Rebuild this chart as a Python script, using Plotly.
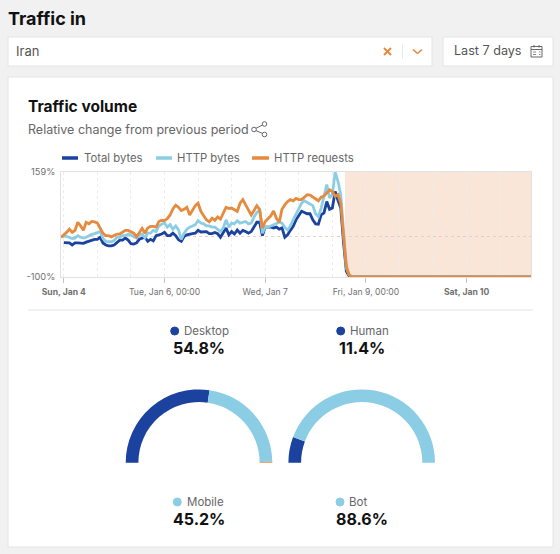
import pandas as pd
import plotly.graph_objects as go

W, H = 560, 554
NAVY, SKY, ORANGE = "#1B429F", "#8CCDE6", "#E68A3E"
FONT = "Inter"

TICK_TIMES = ["2026-01-04 12:00", "2026-01-06 00:00", "2026-01-07 12:00", "2026-01-09 00:00", "2026-01-10 12:00"]
TICK_LABELS = ["<b>Sun, Jan 4</b>", "Tue, Jan 6, 00:00", "Wed, Jan 7", "Fri, Jan 9, 00:00", "<b>Sat, Jan 10</b>"]
Y_TICKS = [-100, 0, 159]
Y_LABELS = ["-100%", "", "159%"]

FLAT_TAIL = [-100, -100, -100, -100, -100, -100, -100, -100, -100, -100, -100, -100, -100, -100, -100, -100,
             -100, -100, -100, -100, -100, -100, -100, -100, -100, -100, -100, -100, -100, -100, -100, -100,
             -100, -100, -100, -100, -100, -100, -100, -100, -100, -100, -100, -100, -100, -100, -100, -100,
             -100, -100, -100, -100, -100, -100, -100, -100, -100, -100, -100, -100, -100, -100, -100, -100]

http_requests = [-2, 3, 10, 18, 10, 15, 35, 26, 15, 35, 31, 37, 36, 33, 21, 8, 2, 2, -1, 2, 6, 6, 10, 15, 15, 12,
                 8, -1, 8, 20, 8, 21, 25, 25, 23, 37, 40, 39, 44, 53, 68, 77, 72, 64, 67, 72, 53, 66, 76, 82, 62,
                 51, 41, 36, 45, 40, 48, 43, 56, 72, 69, 70, 66, 62, 82, 91, 78, 66, 53, 64, 76, 67, 21, 37, 43,
                 51, 63, 45, 35, 67, 78, 86, 91, 88, 94, 91, 91, 97, 103, 102, 97, 93, 88, 97, 100, 107, 115, 111,
                 99, 103, 82, 0, -74, -95, -100] + FLAT_TAIL
http_bytes = [-2, 1, 0, -2, -5, -4, 2, -2, -4, -2, 2, 5, 7, 9, 12, -5, -12, -13, -13, -10, -2, -2, 2, 2, 6, 3,
              -1, -4, 4, 6, -3, 8, 8, 15, 12, 26, 30, 33, 23, 29, 18, 26, 16, -7, 8, 18, 23, 26, 29, 39, 33,
              31, 26, 26, 23, 23, 18, 12, 21, 41, 23, 33, 31, 39, 33, 35, 37, 31, 33, 48, 59, 66, 8, 23, 23,
              26, 29, 33, 35, 33, 22, 16, 26, 41, 56, 70, 82, 88, 84, 78, 76, 56, 49, 70, 99, 128, 95, 103,
              159, 136, 103, 8, -78, -95, -100] + FLAT_TAIL
total_bytes = [None, -15, -15, -16, -21, -16, -16, -17, -17, -14, -12, -9, -7, -7, -2, -16, -21, -23, -23, -21, -16,
               -9, -9, -4, -9, -18, -19, -16, -7, -4, -2, -12, -7, -11, 2, 4, 6, 10, 2, 2, 8, 2, -8, -12, 0, 4,
               6, 7, 8, 15, 11, 11, 12, 7, 7, 10, 7, -2, 10, 21, 4, 12, 6, 16, 8, 15, 12, 8, 12, 25, 35, 35, 2,
               23, 23, 23, 21, 23, 18, 21, -2, 4, 15, 25, 41, 53, 62, 59, 56, 56, 41, 31, 30, 53, 58, 86, 67, 70,
               111, 89, 70, -16, -86, -97, -100] + FLAT_TAIL

device_labels = ["Desktop", "Mobile", "Other"]
device_values = [54.8, 45.2, 0.4]
bot_labels = ["Human", "Bot"]
bot_values = [11.4, 88.6]

times = pd.date_range("2026-01-04 11:00", periods=len(http_requests), freq="h")


def px(x):
    return x / W


def py(y):
    return 1 - y / H


shapes, notes = [], []


def box(x0, y0, x1, y1, fill="#FFFFFF", line="#E4E4E4", lw=1):
    shapes.append(dict(type="rect", xref="paper", yref="paper", x0=px(x0), x1=px(x1), y0=py(y0), y1=py(y1),
                       fillcolor=fill, line=dict(color=line, width=lw), layer="below"))


def seg(x0, y0, x1, y1, color, lw=1.0, dash="solid"):
    shapes.append(dict(type="line", xref="paper", yref="paper", x0=px(x0), x1=px(x1), y0=py(y0), y1=py(y1),
                       line=dict(color=color, width=lw, dash=dash), layer="above"))


def dot(cx, cy, r, fill, line=None, lw=1.0):
    shapes.append(dict(type="circle", xref="paper", yref="paper", x0=px(cx - r), x1=px(cx + r),
                       y0=py(cy + r), y1=py(cy - r), fillcolor=fill,
                       line=dict(color=line or fill, width=lw), layer="above"))


def text(x, y, s, size, color="#555555", anchor="left", bold=False):
    notes.append(dict(xref="paper", yref="paper", x=px(x), y=py(y), text=f"<b>{s}</b>" if bold else s,
                      showarrow=False, xanchor=anchor, yanchor="middle", borderpad=0, borderwidth=0,
                      font=dict(family=FONT, size=size, color=color)))


# page furniture
box(8, 37, 432, 66)
box(443, 37, 553, 66)
box(8, 77, 553, 547)
seg(28, 310, 533, 310, "#E4E4E4", 1)
text(8, 18, "Traffic in", 18, "#111111", bold=True)
text(16, 51, "Iran", 13, "#555555")
text(453.5, 51, "Last 7 days", 12.6, "#555555")
text(28, 107, "Traffic volume", 15.5, "#111111", bold=True)
text(28, 129, "Relative change from previous period", 12.5, "#666666")

# clear / divider / chevron
seg(384, 48, 391, 55, ORANGE, 2)
seg(391, 48, 384, 55, ORANGE, 2)
seg(402.5, 44, 402.5, 59, "#EAEAEA", 1)
seg(413, 49.5, 417.5, 53.5, ORANGE, 1.6)
seg(417.5, 53.5, 422, 49.5, ORANGE, 1.6)

# calendar icon
shapes.append(dict(type="rect", xref="paper", yref="paper", x0=px(531), x1=px(542), y0=py(57), y1=py(46.5),
                   line=dict(color="#666666", width=1), layer="above"))
seg(531, 49.5, 542, 49.5, "#666666", 1)
seg(534, 45, 534, 47.5, "#666666", 1)
seg(539, 45, 539, 47.5, "#666666", 1)
seg(533, 52, 540.5, 52, "#888888", 1, "dot")
seg(533, 54.5, 540.5, 54.5, "#888888", 1, "dot")

# share icon
dot(264.5, 124, 2.3, "#FFFFFF", "#666666")
dot(254, 129.5, 2.3, "#FFFFFF", "#666666")
dot(264.5, 134.5, 2.3, "#FFFFFF", "#666666")
seg(256, 128.3, 262.4, 125.1, "#666666")
seg(256, 130.6, 262.4, 133.4, "#666666")

# chart legend
for x0, x1, tx, color, label in [(62, 78, 84, NAVY, "Total bytes"), (156, 172, 177, SKY, "HTTP bytes"),
                                 (252, 269, 274, ORANGE, "HTTP requests")]:
    shapes.append(dict(type="line", xref="paper", yref="paper", x0=px(x0), x1=px(x1), y0=py(158), y1=py(158),
                       line=dict(color=color, width=3.5), layer="above"))
    text(tx, 158, label, 11.3, "#666666")

# shaded no-comparison window
shapes.append(dict(type="rect", xref="x", yref="paper", x0="2026-01-08 16:30", x1=times[-1],
                   y0=py(277), y1=py(172), fillcolor="#FAE6D9", line=dict(width=0), layer="below"))

# gauge labels: dot x, text x, value centre, y
for dx, tx, vx, name, val, col, ty in [(174.7, 184, 199, "Desktop", "54.8%", NAVY, 331),
                                       (340.7, 350, 362, "Human", "11.4%", NAVY, 331),
                                       (177.3, 187.3, 199, "Mobile", "45.2%", SKY, 502),
                                       (340, 349.3, 361.5, "Bot", "88.6%", SKY, 502)]:
    dot(dx, ty, 4, col)
    text(tx, ty, name, 11.5, "#666666")
    text(vx, ty + 17.3, val, 16, "#111111", anchor="center", bold=True)

fig = go.Figure()
for name, ys, color in [("Total bytes", total_bytes, NAVY), ("HTTP bytes", http_bytes, SKY),
                        ("HTTP requests", http_requests, ORANGE)]:
    fig.add_trace(go.Scatter(x=times, y=ys, name=name, mode="lines", cliponaxis=False,
                             line=dict(color=color, width=2.8, shape="linear"), showlegend=False))


def gauge(cx, cy, labels, values, colors):
    R = 73.3
    hidden = sum(values)
    fig.add_trace(go.Pie(labels=labels + [""], values=values + [hidden], sort=False, direction="clockwise",
                         rotation=-90, hole=0.827, textinfo="none", hoverinfo="label+percent", showlegend=False,
                         marker=dict(colors=colors + ["rgba(0,0,0,0)"], line=dict(width=0)),
                         domain=dict(x=[px(cx - R), px(cx + R)], y=[py(cy + R), py(cy - R)])))


gauge(199, 462.7, device_labels, device_values, [NAVY, SKY, ORANGE])
gauge(361.7, 462.7, bot_labels, bot_values, [NAVY, SKY])

fig.update_layout(
    width=W, height=H, autosize=False, margin=dict(l=0, r=0, t=0, b=0, pad=0, autoexpand=False),
    paper_bgcolor="#F1F1F1", plot_bgcolor="rgba(0,0,0,0)", showlegend=False,
    font=dict(family=FONT, color="#666666"),
    shapes=shapes, annotations=notes,
    xaxis=dict(domain=[px(61), px(531)], range=[times[0], times[-1]], type="date",
               tickmode="array", tickvals=TICK_TIMES, ticktext=TICK_LABELS,
               ticks="outside", ticklen=5, tickcolor="#C4C4C4", ticklabelstandoff=2,
               tickfont=dict(size=8.6, color="#707070"),
               showgrid=False, showline=True, linecolor="#E2E2E2", mirror=True, zeroline=False,
               minor=dict(tick0="2026-01-04 12:00", dtick=43200000, showgrid=True, gridcolor="#EDEDED",
                          griddash="dot", gridwidth=1, ticks="")),
    yaxis=dict(domain=[py(277), py(172)], range=[-100, 159], tickmode="array", tickvals=Y_TICKS,
               ticktext=Y_LABELS, ticks="", ticklabelstandoff=3, tickfont=dict(size=9.2, color="#707070"),
               showgrid=True, griddash="dot", gridcolor="#DDD3CA", gridwidth=1,
               showline=True, linecolor="#E2E2E2", mirror=True, zeroline=False),
)
fig.write_html("out.html", config=dict(displayModeBar=False), post_script="document.body.style.margin='0';")
